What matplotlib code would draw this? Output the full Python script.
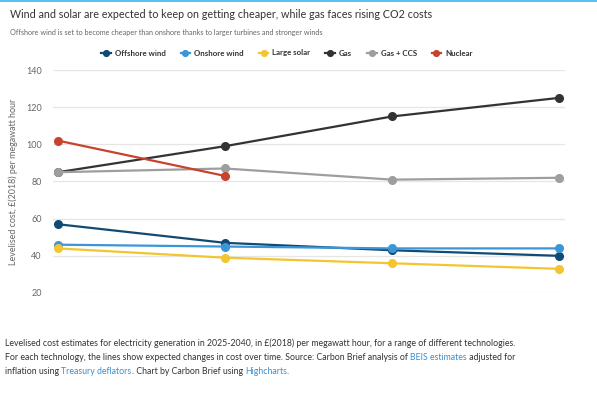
import matplotlib.pyplot as plt
from matplotlib.lines import Line2D

plt.rcParams['font.family'] = ['Lato', 'DejaVu Sans']

# Data: levelised cost, £(2018)/MWh
years = [2025, 2030, 2035, 2040]
offshore_wind = [57, 47, 43, 40]
onshore_wind = [46, 45, 44, 44]
large_solar = [44, 39, 36, 33]
gas = [85, 99, 115, 125]
gas_ccs = [85, 87, 81, 82]
nuclear = [102, 83, None, None]

series = [
    ('Offshore wind', offshore_wind, '#114a75'),
    ('Onshore wind', onshore_wind, '#3a96d6'),
    ('Large solar', large_solar, '#f3c530'),
    ('Gas', gas, '#333333'),
    ('Gas + CCS', gas_ccs, '#9e9e9e'),
    ('Nuclear', nuclear, '#c8432d'),
]

W, H = 597, 397
fig = plt.figure(figsize=(W / 100, H / 100), dpi=100)
fig.patch.set_facecolor('white')
r = fig.canvas.get_renderer()

# thin blue strip at the very top
fig.add_artist(Line2D([0, 1], [1 - 1 / H, 1 - 1 / H], color='#5bc0f0', lw=1.5,
                      transform=fig.transFigure))

ax = fig.add_axes([53 / W, 1 - 293 / H, (565 - 53) / W, (293 - 70) / H])

xs = list(range(len(years)))
handles = []
for name, vals, col in series:
    px = [x for x, v in zip(xs, vals) if v is not None]
    py = [v for v in vals if v is not None]
    ln, = ax.plot(px, py, color=col, lw=1.6, marker='o', markersize=5.5,
                  label=name, zorder=3)
    handles.append(ln)

ax.set_xlim(-0.03, 3.036)
ax.set_ylim(20, 140)
ax.set_yticks(range(20, 141, 20))
ax.set_xticks([])
ax.grid(axis='y', color='#e6e6e6', lw=0.9)
ax.set_axisbelow(True)
for s in ax.spines.values():
    s.set_visible(False)
ax.tick_params(axis='y', length=0, pad=8, labelsize=6.5, labelcolor='#666666')
ax.set_ylabel('Levelised cost, £(2018) per megawatt hour', fontsize=6.4,
              color='#666666')
ax.yaxis.set_label_coords(-(53 - 18.5) / 512, 0.5)

leg = ax.legend(handles=handles, ncol=6, loc='center',
                bbox_to_anchor=((287 - 53) / 512, 1 + 17 / 223),
                frameon=False, prop={'weight': 'bold', 'size': 5.7},
                handlelength=1.2, handletextpad=0.5, columnspacing=1.9,
                markerscale=0.75)
for t in leg.get_texts():
    t.set_color('#333333')


def fit_size(s, width, size0=10):
    # font size at which a text spans the given pixel width
    t = fig.text(0, 0, s, fontsize=size0)
    w = t.get_window_extent(r).width
    t.remove()
    return size0 * width / w


title = 'Wind and solar are expected to keep on getting cheaper, while gas faces rising CO2 costs'
subtitle = 'Offshore wind is set to become cheaper than onshore thanks to larger turbines and stronger winds'
fig.text(10 / W, 1 - 15 / H, title, fontsize=fit_size(title, 423), color='#333333',
         va='center', ha='left')
fig.text(10 / W, 1 - 32 / H, subtitle, fontsize=fit_size(subtitle, 313), color='#666666',
         va='center', ha='left')

# caption with link-coloured pieces
caption = [
    [('Levelised cost estimates for electricity generation in 2025-2040, in £(2018) per megawatt hour, for a range of different technologies.', '#333333')],
    [('For each technology, the lines show expected changes in cost over time. Source: Carbon Brief analysis of ', '#333333'),
     ('BEIS estimates', '#3a8fd0'), (' adjusted for', '#333333')],
    [('inflation using ', '#333333'), ('Treasury deflators', '#3a8fd0'),
     ('. Chart by Carbon Brief using ', '#333333'), ('Highcharts', '#3a8fd0'), ('.', '#333333')],
]
cap_size = fit_size(caption[0][0][0], 512)
for i, line in enumerate(caption):
    x = 5
    y = 343 + 14 * i
    for txt, col in line:
        t = fig.text(x / W, 1 - y / H, txt, fontsize=cap_size, color=col, va='center', ha='left')
        x += t.get_window_extent(r).width

fig.savefig('out.png', dpi=100)
